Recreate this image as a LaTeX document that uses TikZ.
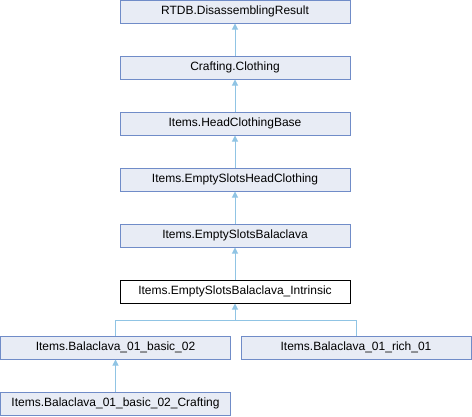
\documentclass[tikz,border=0pt]{standalone}
\usepackage{fontspec}
\setmainfont{Liberation Sans}
\usetikzlibrary{arrows.meta}
\definecolor{boxfill}{RGB}{232,236,245}
\definecolor{boxline}{RGB}{112,140,200}
\definecolor{edgecol}{RGB}{144,196,228}
\begin{document}
\begin{tikzpicture}[x=1pt,y=-1pt,
  cls/.style={draw=boxline,fill=boxfill,line width=1pt,minimum width=230pt,minimum height=23pt,inner sep=0pt,font=\fontsize{12pt}{14pt}\selectfont},
  cur/.style={cls,draw=black,fill=white},
  edge/.style={draw=edgecol,line width=1pt,-{Triangle[length=6pt,width=6pt]}}]
\useasboundingbox (0,0) rectangle (472,416);
\node[cls] (n0) at (235,11.5) {RTDB.DisassemblingResult};
\node[cls] (n1) at (235,67.5) {Crafting.Clothing};
\node[cls] (n2) at (235,123.5) {Items.HeadClothingBase};
\node[cls] (n3) at (235,179.5) {Items.EmptySlotsHeadClothing};
\node[cls] (n4) at (235,235.5) {Items.EmptySlotsBalaclava};
\node[cur] (n5) at (235,291.5) {Items.EmptySlotsBalaclava\_Intrinsic};
\node[cls] (b1) at (115.5,347.5) {Items.Balaclava\_01\_basic\_02};
\node[cls] (b2) at (356,347.5) {Items.Balaclava\_01\_rich\_01};
\node[cls] (c1) at (115.5,403.5) {Items.Balaclava\_01\_basic\_02\_Crafting};
\coordinate (bj) at (235,320);
\draw[edge] (n1.north) -- (n0.south);
\draw[edge] (n2.north) -- (n1.south);
\draw[edge] (n3.north) -- (n2.south);
\draw[edge] (n4.north) -- (n3.south);
\draw[edge] (n5.north) -- (n4.south);
\draw[edge] (b1.north) |- (bj) -- (n5.south);
\draw[draw=edgecol,line width=1pt] (b2.north) |- (bj);
\draw[edge] (c1.north) -- (b1.south);
\end{tikzpicture}
\end{document}
